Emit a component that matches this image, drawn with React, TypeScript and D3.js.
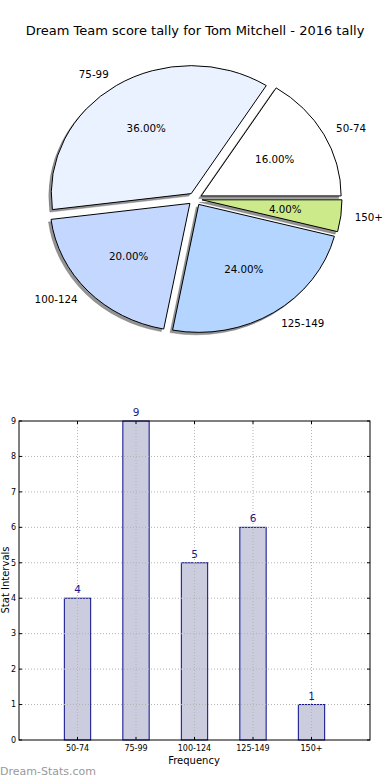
import React from "react";
import * as d3 from "d3";

const categories = ["50-74", "75-99", "100-124", "125-149", "150+"];
const counts = [4, 9, 5, 6, 1];
const pieColors = ["#ffffff", "#eaf2ff", "#c4d8ff", "#b3d5ff", "#cdea8a"];
const yTicks = [0, 1, 2, 3, 4, 5, 6, 7, 8, 9];
const title = "Dream Team score tally for Tom Mitchell - 2016 tally";

const W = 390;
const H = 780;
const FONT = "DejaVu Sans, sans-serif";

export default function App() {
  const total = d3.sum(counts);
  const pie = d3
    .pie<number>()
    .sort(null)
    .startAngle(Math.PI / 2)
    .endAngle(Math.PI / 2 - 2 * Math.PI);
  const arcs = pie(counts);
  const arc = d3.arc<any>().innerRadius(0).outerRadius(1);
  const cx = 195, cy = 199, rx = 140, ry = 128;
  const explode = 0.05;

  const wedges = arcs.map((a, i) => {
    const m = (a.startAngle + a.endAngle) / 2;
    const dx = Math.sin(m), dy = -Math.cos(m);
    const ox = cx + explode * rx * dx;
    const oy = cy + explode * ry * dy;
    const lx = ox + 1.1 * rx * dx;
    const ly = oy + 1.1 * ry * dy;
    const px = ox + 0.6 * rx * dx;
    const py = oy + 0.6 * ry * dy;
    return { a, i, ox, oy, lx, ly, px, py, dx };
  });

  const x = d3.scaleLinear().domain([-1, 5]).range([19, 370]);
  const y = d3.scaleLinear().domain([0, 9]).range([740, 421]);
  const bw = x(0.45) - x(0);

  return (
    <svg width={W} height={H} style={{ position: "absolute", left: 0, top: 0, background: "#fff" }} fontFamily={FONT}>
      <rect x={0} y={0} width={W} height={H} fill="#fff" />
      <text x={195} y={35} textAnchor="middle" fontSize={13} fill="#000">{title}</text>

      {wedges.map((w) => (
        <path
          key={"s" + w.i}
          d={arc(w.a) as string}
          transform={`translate(${w.ox - 2.5},${w.oy + 2.5}) scale(${rx},${ry})`}
          fill="#4d4d4d"
          fillOpacity={0.6}
          stroke="#4d4d4d"
          strokeOpacity={0.3}
          strokeWidth={1}
          vectorEffect="non-scaling-stroke"
        />
      ))}
      {wedges.map((w) => (
        <path
          key={"w" + w.i}
          d={arc(w.a) as string}
          transform={`translate(${w.ox},${w.oy}) scale(${rx},${ry})`}
          fill={pieColors[w.i]}
          stroke="#000"
          strokeWidth={1}
          vectorEffect="non-scaling-stroke"
        />
      ))}
      {wedges.map((w) => (
        <text
          key={"l" + w.i}
          x={w.lx}
          y={w.ly}
          dy="0.35em"
          textAnchor={w.dx > 0 ? "start" : "end"}
          fontSize={10.3}
          fill="#000"
        >
          {categories[w.i]}
        </text>
      ))}
      {wedges.map((w) => (
        <text key={"p" + w.i} x={w.px} y={w.py} dy="0.35em" textAnchor="middle" fontSize={10.3} fill="#000">
          {((counts[w.i] / total) * 100).toFixed(2) + "%"}
        </text>
      ))}

      <rect x={x(-1)} y={y(9)} width={x(5) - x(-1)} height={y(0) - y(9)} fill="#fff" />
      {categories.map((c, i) => (
        <rect
          key={"b" + i}
          x={x(i) - bw / 2}
          y={y(counts[i])}
          width={bw}
          height={y(0) - y(counts[i])}
          fill="#ccccdf"
          stroke="#0a0a8a"
          strokeWidth={1}
        />
      ))}
      {yTicks.slice(1, -1).map((t) => (
        <line key={"gy" + t} x1={x(-1)} x2={x(5)} y1={y(t)} y2={y(t)} stroke="#b4b4b4" strokeWidth={1} strokeDasharray="1,2" />
      ))}
      {categories.map((c, i) => (
        <line key={"gx" + i} x1={x(i)} x2={x(i)} y1={y(0)} y2={y(9)} stroke="#b4b4b4" strokeWidth={1} strokeDasharray="1,2" />
      ))}
      {yTicks.map((t) => (
        <g key={"ty" + t}>
          <line x1={x(-1)} x2={x(-1) + 3} y1={y(t)} y2={y(t)} stroke="#000" />
          <line x1={x(5)} x2={x(5) - 3} y1={y(t)} y2={y(t)} stroke="#000" />
          <text x={x(-1) - 3} y={y(t)} dy="0.35em" textAnchor="end" fontSize={8} fill="#000">{t}</text>
        </g>
      ))}
      {categories.map((c, i) => (
        <g key={"tx" + i}>
          <line x1={x(i)} x2={x(i)} y1={y(0)} y2={y(0) - 3} stroke="#000" />
          <line x1={x(i)} x2={x(i)} y1={y(9)} y2={y(9) + 3} stroke="#000" />
          <text x={x(i)} y={y(0) + 11} textAnchor="middle" fontSize={8} fill="#000">{c}</text>
        </g>
      ))}
      <rect x={x(-1)} y={y(9)} width={x(5) - x(-1)} height={y(0) - y(9)} fill="none" stroke="#000" strokeWidth={1} />
      {categories.map((c, i) => (
        <text key={"v" + i} x={x(i)} y={y(counts[i]) - 5} textAnchor="middle" fontSize={10.5} fill="#1a1a8c">{counts[i]}</text>
      ))}
      <text x={194} y={764} textAnchor="middle" fontSize={10} fill="#000">Frequency</text>
      <text transform="translate(9,580) rotate(-90)" textAnchor="middle" fontSize={10} fill="#000">Stat Intervals</text>
      <text x={0} y={775} fontSize={11} fill="#999">Dream-Stats.com</text>
    </svg>
  );
}
